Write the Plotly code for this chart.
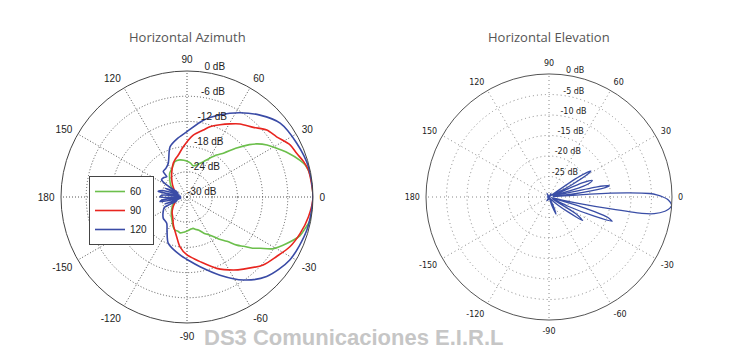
import plotly.graph_objects as go

# ---------------- data ----------------
ang_ticks = [0, 30, 60, 90, 120, 150, 180, 210, 240, 270, 300, 330]
ang_text = ["0", "30", "60", "90", "120", "150", "180", "-150", "-120", "-90", "-60", "-30"]

az_r_ticks = [-30, -24, -18, -12, -6, 0]
az_r_text = ["-30 dB", "-24 dB", "-18 dB", "-12 dB", "-6 dB", "0 dB"]
el_r_ticks = [-25, -20, -15, -10, -5, 0]
el_r_text = ["-25 dB", "-20 dB", "-15 dB", "-10 dB", "-5 dB", "0 dB"]

# Azimuth, 60 deg sector (green)
g60_theta = [0, 10, 15, 18, 24, 28, 33, 37, 40, 45, 50, 55, 60, 65, 70, 75, 79, 84, 88, 95, 101, 109, 113,
             120, 126, 135, 144, 155, 165, 180, -165, -155, -140, -130, -120, -115, -110, -105, -101, -95,
             -88, -83, -79, -75, -71, -65, -59, -53, -48, -44, -41, -38, -35, -31, -25, -19, -15, -11, -5, 0]
g60_r = [0, -0.2, -0.8, -1.7, -3.9, -5.5, -7.3, -9.0, -10.6, -13.6, -16.3, -17.8, -19.4, -20.7, -21.6, -22.2,
         -22.4, -21.9, -21.6, -21.2, -21.0, -21.1, -21.7, -22.5, -23.0, -24.2, -25.2, -26.5, -27.3, -27.8,
         -27.3, -26.4, -25.2, -24.2, -23.0, -22.2, -21.6, -21.6, -21.3, -21.6, -22.0, -22.3, -22.4, -22.0,
         -21.7, -20.5, -19.4, -17.5, -15.8, -13.5, -12.1, -10.2, -8.7, -6.1, -3.8, -1.6, -0.9, -0.2, -0.05, 0]

# Azimuth, 90 deg sector (red)
r90_theta = [0, 12.5, 17, 21.7, 26.8, 33.9, 40, 46.4, 54, 59.5, 65.4, 71.9, 76.3, 84.2, 94.2, 101.7, 108, 112,
             120, 129, 140, 155, 170, 180, -170, -155, -143, -133, -126, -116, -104.5, -98, -90, -84, -78.6,
             -67.4, -57.6, -52, -41.7, -33.6, -25.8, -17.8, -9.2, 0]
r90_r = [0, -0.4, -1.0, -1.9, -2.5, -4.3, -5.2, -7.1, -8.5, -9.8, -11.1, -12.4, -13.6, -15.2, -18.0, -19.8,
         -20.7, -21.3, -22.8, -24.2, -25.5, -26.8, -27.5, -27.8, -27.5, -26.8, -25.8, -24.8, -24.2, -22.6,
         -20.2, -18.0, -16.2, -15.3, -14.3, -11.6, -9.4, -8.2, -5.7, -4.4, -2.8, -1.7, -0.7, 0]

# Azimuth, 120 deg sector (blue)
b120_theta = [0, 14, 26.1, 38.4, 48.3, 57.8, 68.1, 78, 90.3, 100, 108.7, 119, 126, 133, 135, 140, 146, 150,
              154, 158, 161, 165, 169, 172, 176, 180, -176, -173, -170, -167, -163, -159, -155, -151, -145,
              -138, -127.7, -120, -112, -96.9, -88, -79.4, -67.1, -55.8, -45, -31.5, -15.4, 0]
b120_r = [0, -0.2, -0.9, -1.7, -3.9, -6.3, -8.9, -11.3, -14.5, -16.0, -17.4, -20.8, -21.5, -21.7, -23.2,
          -22.8, -22.7, -25.0, -27.5, -24.4, -28.0, -24.0, -23.0, -28.5, -24.0, -23.6, -28.5, -24.0, -23.5,
          -28.5, -24.5, -27.5, -24.0, -23.6, -23.0, -22.4, -22.1, -20.5, -18.1, -16.1, -14.8, -13.1, -9.8,
          -6.1, -3.2, -1.3, -0.4, 0]

# Elevation pattern (blue)
el_theta = [-180, -150, -120, -90, -80, -72, -68, -64, -58, -48, -42, -38, -35, -32, -29, -26, -23, -21, -19,
            -17, -15, -13, -12, -11, -10, -9, -7, -6, -5, -4, -3, -2, -1, 0, 1, 2, 3, 4, 5, 7, 9, 10.5, 12,
            14, 17, 19, 21, 23, 25, 28, 30.5, 32, 34, 36, 45, 60, 90, 120, 150, 180]
el_r = [-29.5, -30, -29, -29.5, -30, -28, -25.5, -28, -30, -29, -27, -24, -20, -22, -29, -25, -18, -13.5,
        -15, -22, -29.5, -27, -22, -15, -7, -4, -1.5, -0.8, -0.3, 0, -0.2, -0.6, -1.2, -2.2, -3.5, -5.5,
        -11, -20, -29, -24, -17, -15, -18, -29, -22, -19.5, -18.7, -21, -29, -24, -19, -18, -21, -29,
        -30, -29, -30, -29, -30, -29.5]

# ---------------- figure ----------------
fig = go.Figure()

az_series = [("60", g60_theta, g60_r, "#6cbf4c"),
             ("90", r90_theta, r90_r, "#e8251f"),
             ("120", b120_theta, b120_r, "#3a4ba6")]
for name, th, rr, col in az_series:
    fig.add_trace(go.Scatterpolar(theta=th, r=rr, mode="lines", name=name,
                                  line=dict(color=col, width=1.6, shape="spline", smoothing=0.8),
                                  subplot="polar"))

fig.add_trace(go.Scatterpolar(theta=el_theta, r=el_r, mode="lines", showlegend=False,
                              line=dict(color="#3a4ea6", width=1.3, shape="spline", smoothing=0.7),
                              subplot="polar2"))

# radial labels (Matlab style, at 82 deg)
fig.add_trace(go.Scatterpolar(theta=[82] * len(az_r_ticks), r=az_r_ticks, text=az_r_text, mode="text",
                              textposition="top right", showlegend=False, cliponaxis=False,
                              textfont=dict(size=10, color="#222", family="Liberation Sans"),
                              subplot="polar"))
fig.add_trace(go.Scatterpolar(theta=[82] * len(el_r_ticks), r=el_r_ticks, text=el_r_text, mode="text",
                              textposition="top right", showlegend=False, cliponaxis=False,
                              textfont=dict(size=8, color="#222", family="DejaVu Sans"),
                              subplot="polar2"))

W, H = 748, 358


def dom(cx, cy, R):
    return dict(x=[(cx - R) / W, (cx + R) / W], y=[(H - cy - R) / H, (H - cy + R) / H])


def polar_cfg(cx, cy, R, fsize, ffam, rticks, gcol, gdash, lcol):
    return dict(
        domain=dom(cx, cy, R),
        bgcolor="white",
        angularaxis=dict(rotation=0, direction="counterclockwise", tickmode="array",
                         tickvals=ang_ticks, ticktext=ang_text, showline=True, linecolor=lcol,
                         linewidth=1, showgrid=True, gridcolor=gcol, griddash=gdash, gridwidth=1,
                         ticks="outside", ticklen=4, tickcolor="rgba(0,0,0,0)",
                         tickfont=dict(size=fsize, color="#222", family=ffam)),
        radialaxis=dict(range=[-30, 0], tickmode="array", tickvals=rticks,
                        showticklabels=False, showline=False, ticks="", showgrid=True,
                        gridcolor=gcol, griddash=gdash, gridwidth=1),
    )


fig.update_layout(
    width=W, height=H, margin=dict(l=0, r=0, t=0, b=0),
    paper_bgcolor="white", plot_bgcolor="white",
    polar=polar_cfg(187, 197, 126, 10, "Liberation Sans", [-24, -18, -12, -6], "#555", "1px,2px", "#444"),
    polar2=polar_cfg(549, 197, 123, 8, "DejaVu Sans", [-25, -20, -15, -10, -5], "#888", "1px,3px", "#555"),
    showlegend=True,
    legend=dict(x=89 / W, y=(H - 176) / H, xanchor="left", yanchor="top", bgcolor="white",
                bordercolor="#444", borderwidth=1, font=dict(size=10, color="#222", family="Liberation Sans"),
                tracegroupgap=0, itemwidth=30),
    annotations=[
        dict(text="Horizontal Azimuth", x=187 / W, y=(H - 37) / H, xref="paper", yref="paper",
             showarrow=False, xanchor="center", yanchor="middle",
             font=dict(size=13, color="#555", family="Open Sans")),
        dict(text="Horizontal Elevation", x=549 / W, y=(H - 37) / H, xref="paper", yref="paper",
             showarrow=False, xanchor="center", yanchor="middle",
             font=dict(size=13, color="#555", family="Open Sans")),
        dict(text="<b>DS3 Comunicaciones E.I.R.L</b>", x=354 / W, y=(H - 337) / H, xref="paper", yref="paper",
             showarrow=False, xanchor="center", yanchor="middle",
             font=dict(size=22, color="#c6c6c6", family="Liberation Sans")),
    ],
)

fig.write_html("out.html", config={"displayModeBar": False},
               post_script="document.body.style.margin='0';")
